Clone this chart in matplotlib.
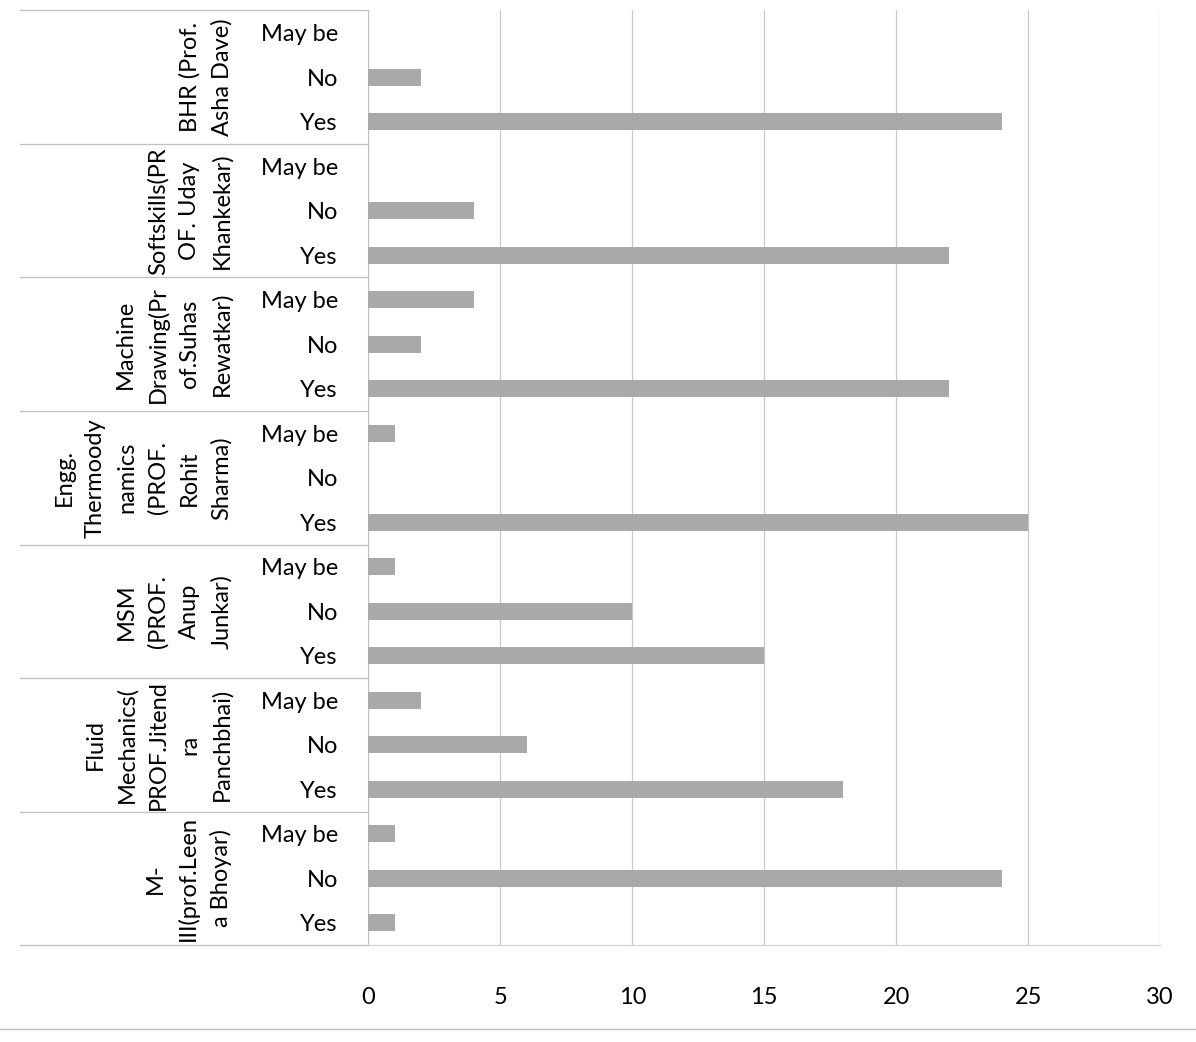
import numpy as np
import matplotlib.pyplot as plt

plt.rcParams['font.family'] = ['Lato', 'DejaVu Sans']

# groups listed bottom to top, answers within group bottom to top
groups = ["M-\nIII(prof.Leen\na Bhoyar)",
          "Fluid\nMechanics(\nPROF.Jitend\nra\nPanchbhai)",
          "MSM\n(PROF.\nAnup\nJunkar)",
          "Engg.\nThermoody\nnamics\n(PROF.\nRohit\nSharma)",
          "Machine\nDrawing(Pr\nof.Suhas\nRewatkar)",
          "Softskills(PR\nOF. Uday\nKhankekar)",
          "BHR (Prof.\nAsha Dave)"]
answers = ["Yes", "No", "May be"]
values = [[1, 24, 1],
          [18, 6, 2],
          [15, 10, 1],
          [25, 0, 1],
          [22, 2, 4],
          [22, 4, 0],
          [24, 2, 0]]
xticks = [0, 5, 10, 15, 20, 25, 30]

fig = plt.figure(figsize=(11.96, 10.42), dpi=100)
ax = fig.add_axes([0.308, 0.093, 0.662, 0.897])

vals = np.array(values).ravel()
ypos = np.arange(len(vals))
ax.barh(ypos, vals, height=0.38, color='#a9a9a9', zorder=3)

ax.set_xlim(0, 30)
ax.set_ylim(-0.5, len(vals) - 0.5)
ax.set_xticks(xticks)
ax.set_xticklabels([str(t) for t in xticks], fontsize=17)
ax.set_yticks(ypos)
ax.set_yticklabels(answers * len(groups), fontsize=17)
ax.tick_params(axis='x', length=0, pad=30)
ax.tick_params(axis='y', length=0, pad=22)
ax.grid(axis='x', color='#c8c8c8', lw=0.9, zorder=0)

for s in ['top', 'right']:
    ax.spines[s].set_visible(False)
ax.spines['left'].set_color('#bfbfbf')
ax.spines['bottom'].set_color('#d0d0d0')

tr = ax.get_yaxis_transform()
n = len(answers)
for i, g in enumerate(groups):
    yc = i * n + (n - 1) / 2
    ax.text(-0.172, yc, g, transform=tr, rotation=90, ha='right', va='center',
            multialignment='center', fontsize=17, linespacing=1.6)
for b in range(len(groups) + 1):
    yb = b * n - 0.5
    ax.plot([-0.44, 0], [yb, yb], transform=tr, color='#bfbfbf', lw=0.9,
            clip_on=False)

# chart area bottom edge
fig.add_artist(plt.Line2D([0.0, 1.0], [0.012, 0.012], color='#c0c0c0', lw=1))

fig.savefig('out.png')
